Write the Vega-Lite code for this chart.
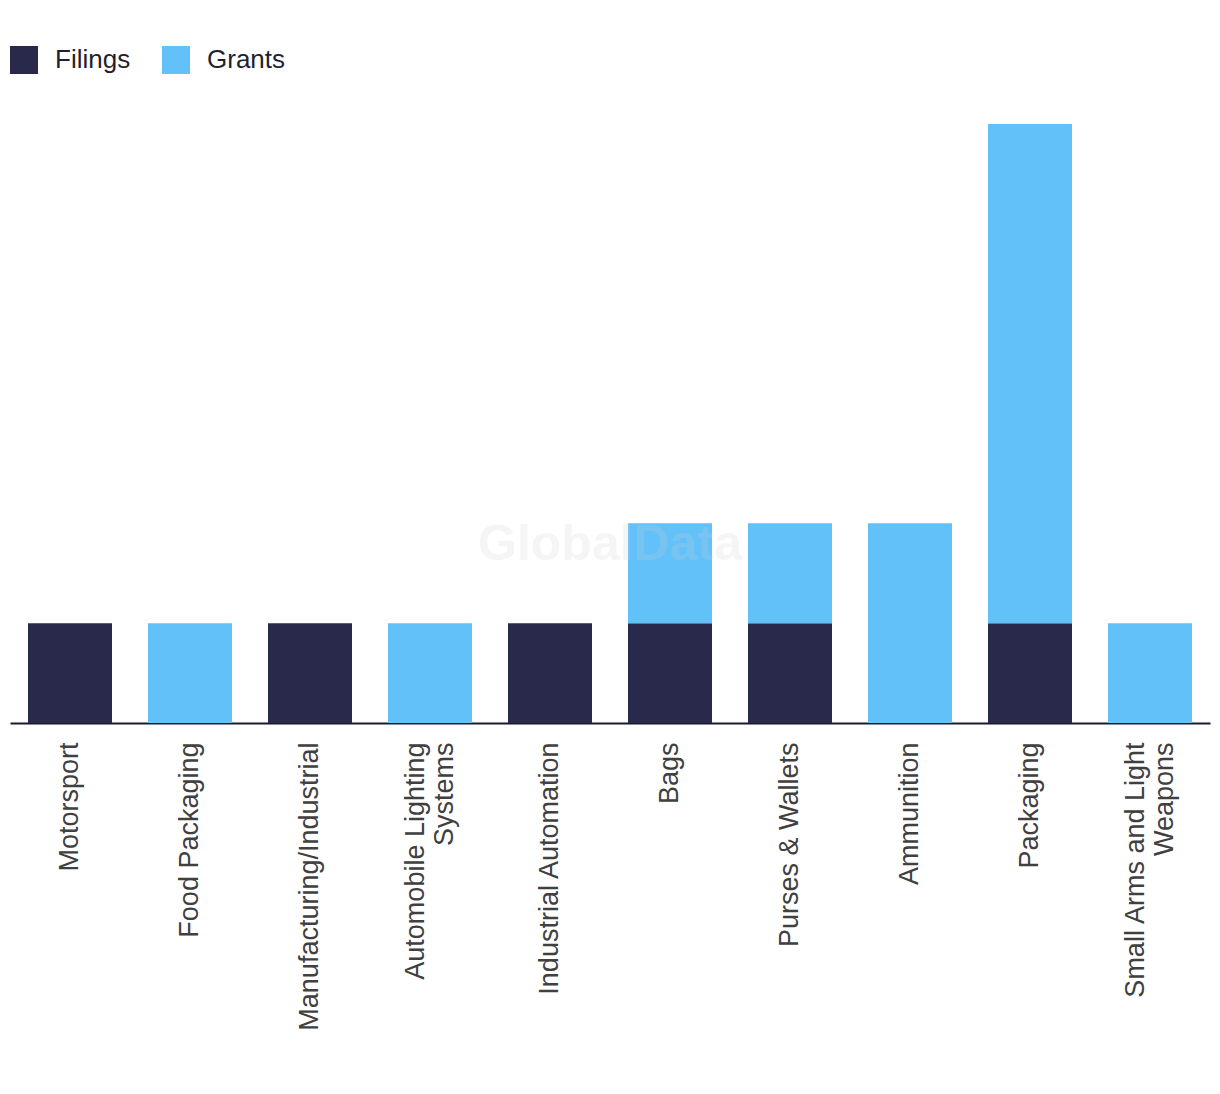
{
  "$schema": "https://vega.github.io/schema/vega-lite/v6.json",
  "autosize": {"type": "none"},
  "width": 1200,
  "height": 599,
  "padding": {"left": 10, "top": 124, "right": 10, "bottom": 371},
  "background": "white",
  "config": {"view": {"stroke": null}},
  "layer": [
    {
      "data": {
        "values": [
          {"technology": "Motorsport", "series": "Filings", "count": 1},
          {"technology": "Food Packaging", "series": "Grants", "count": 1},
          {"technology": "Manufacturing/Industrial", "series": "Filings", "count": 1},
          {"technology": "Automobile Lighting Systems", "series": "Grants", "count": 1},
          {"technology": "Industrial Automation", "series": "Filings", "count": 1},
          {"technology": "Bags", "series": "Filings", "count": 1},
          {"technology": "Bags", "series": "Grants", "count": 1},
          {"technology": "Purses & Wallets", "series": "Filings", "count": 1},
          {"technology": "Purses & Wallets", "series": "Grants", "count": 1},
          {"technology": "Ammunition", "series": "Grants", "count": 2},
          {"technology": "Packaging", "series": "Filings", "count": 1},
          {"technology": "Packaging", "series": "Grants", "count": 5},
          {"technology": "Small Arms and Light Weapons", "series": "Grants", "count": 1}
        ]
      },
      "mark": {"type": "bar"},
      "encoding": {
        "x": {
          "field": "technology",
          "type": "nominal",
          "sort": null,
          "scale": {"paddingInner": 0.3, "paddingOuter": 0.15},
          "axis": {
            "title": null,
            "labelAngle": -90,
            "labelAlign": "right",
            "labelBaseline": "middle",
            "labelFont": "Liberation Sans",
            "labelFontSize": 27,
            "labelColor": "#404040",
            "labelPadding": 19,
            "labelLineHeight": 29,
            "labelLimit": 400,
            "labelOffset": {"expr": "indexof(['Automobile Lighting Systems','Small Arms and Light Weapons'], datum.value) >= 0 ? -14 : 0"},
            "ticks": false,
            "domainColor": "#1a1a2e",
            "domainWidth": 2,
            "labelExpr": "datum.label == 'Automobile Lighting Systems' ? ['Automobile Lighting', 'Systems'] : datum.label == 'Small Arms and Light Weapons' ? ['Small Arms and Light', 'Weapons'] : datum.label"
          }
        },
        "y": {
          "field": "count",
          "type": "quantitative",
          "stack": "zero",
          "scale": {"domain": [0, 6], "nice": false},
          "axis": null
        },
        "color": {
          "field": "series",
          "type": "nominal",
          "scale": {"domain": ["Filings", "Grants"], "range": ["#28294b", "#63c1f9"]},
          "legend": {
            "title": null,
            "orient": "none",
            "legendX": 0,
            "legendY": -78,
            "direction": "horizontal",
            "padding": 0,
            "symbolType": "square",
            "symbolSize": 784,
            "symbolStrokeWidth": 0,
            "symbolOpacity": 1,
            "labelFont": "Liberation Sans",
            "labelFontSize": 26,
            "labelColor": "#1f1f2f",
            "labelOffset": 17,
            "columnPadding": 31
          }
        },
        "order": {"field": "series", "sort": "ascending"}
      }
    },
    {
      "data": {"values": [{"watermark": "GlobalData"}]},
      "mark": {
        "type": "text",
        "font": "Liberation Sans",
        "fontWeight": "bold",
        "fontSize": 50,
        "color": "rgba(205,205,205,0.2)",
        "align": "center",
        "baseline": "middle"
      },
      "encoding": {
        "text": {"field": "watermark"},
        "x": {"value": {"expr": "width/2"}},
        "y": {"datum": 1.78}
      }
    }
  ]
}
